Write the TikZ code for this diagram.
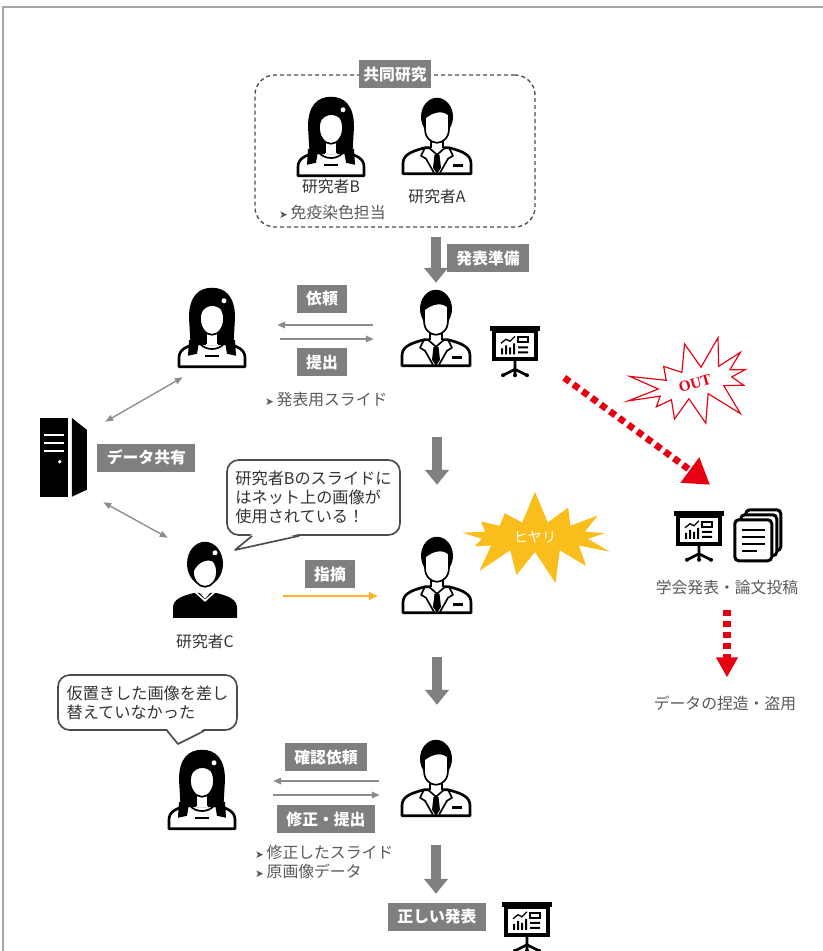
\documentclass[tikz,border=0pt]{standalone}
\usepackage{fontspec}
\setmainfont{Noto Sans CJK JP}
\newfontfamily\dejavu{DejaVu Sans}
\newfontfamily\outserif{Liberation Serif}
\usepackage{tikz}
\usetikzlibrary{arrows.meta, positioning, shapes.symbols}

\definecolor{tagfill}{HTML}{7F7F7F}
\definecolor{flowgray}{HTML}{808080}
\definecolor{linegray}{HTML}{8C8C8C}
\definecolor{textgray}{HTML}{595959}
\definecolor{framegray}{HTML}{A6A6A6}
\definecolor{alertred}{HTML}{E60012}
\definecolor{flashyellow}{HTML}{F9BE1C}
\definecolor{pointyellow}{HTML}{F7B52A}

\newcommand{\arrowbullet}{{\dejavu\fontsize{9}{10}\selectfont ➤}\,}
\newcommand{\jpsize}{\fontsize{13.5}{16}\selectfont}

\tikzset{
  person/.style={minimum width=2.1cm, minimum height=2.34cm, inner sep=0pt},
  tag/.style={fill=tagfill, text=white, font=\bfseries\jpsize, inner xsep=8pt, inner ysep=0pt, minimum height=0.84cm},
  who/.style={text=black!80, inner sep=0pt},
  note/.style={text=textgray, inner sep=0pt},
  team/.style={draw=black!70, dashed, dash pattern=on 0.12cm off 0.09cm, line width=0.04cm, rounded corners=0.6cm, minimum width=8.4cm, minimum height=4.56cm},
  flow/.style={draw=flowgray, line width=0.3cm, -{Triangle[length=0.45cm,width=0.7cm]}},
  pass/.style={draw=linegray, line width=0.05cm, -{Triangle[length=0.24cm,width=0.2cm]}},
  share/.style={draw=linegray, line width=0.04cm, {Triangle[length=0.24cm,width=0.18cm]}-{Triangle[length=0.24cm,width=0.18cm]}},
  hint/.style={draw=pointyellow, line width=0.06cm, -{Triangle[length=0.27cm,width=0.24cm]}},
  outline/.style={draw=alertred, line width=0.2cm, dash pattern=on 0.2cm off 0.14cm, -{Triangle[length=0.75cm,width=0.9cm]}},
  outdown/.style={draw=alertred, line width=0.24cm, dash pattern=on 0.18cm off 0.15cm, -{Triangle[length=0.6cm,width=0.62cm]}},
  bubble/.style={draw=black!70, fill=white, line width=0.05cm, rounded corners=0.35cm, align=left, inner xsep=7pt, text=black!80, font=\fontsize{13.8}{16}\selectfont},
  flash/.style={starburst, starburst points=13, starburst point height=1cm, random starburst=7, fill=flashyellow, text=white, font=\fontsize{12}{14}\selectfont, minimum width=5.2cm, minimum height=2.9cm, inner sep=0pt},
  boom/.style={starburst, starburst points=12, starburst point height=1.1cm, random starburst=21, draw=alertred, line width=0.035cm, fill=white, text=alertred, font=\outserif\bfseries\fontsize{13}{15}\selectfont, minimum width=4.5cm, minimum height=3.05cm},
  suitman/.pic={
    \draw[fill=white, line width=0.08cm, line join=round]
      (-34,76) -- (-34,66) .. controls (-34,58) and (-28,54) .. (-12,50)
      -- (12,50) .. controls (28,54) and (34,58) .. (34,66) -- (34,76) -- cycle;
    \fill[white] (-6,38) rectangle (6,52);
    \draw[line width=0.05cm] (-6,40) -- (-6,50) (6,40) -- (6,50);
    \fill (0,19) ellipse [x radius=16, y radius=19];
    \draw[fill=white, line width=0.05cm] (-12,20) .. controls (-5,14) and (5,11) .. (12,17)
      -- (12,31) .. controls (12,40) and (6,45) .. (0,45) .. controls (-6,45) and (-12,40) .. (-12,31) -- cycle;
    \draw[line width=0.05cm, line join=round] (-12,50) -- (-16,58) -- (-11,61) -- (-3,75)
      (12,50) -- (16,58) -- (11,61) -- (3,75)
      (-8,50) -- (0,57) -- (8,50);
    \fill (-2.5,57) -- (2.5,57) -- (4,70) -- (0,76) -- (-4,70) -- cycle;
    \fill (16,66) rectangle (26,69);
  },
  longhair/.pic={
    \fill (-21,64) -- (-23,30) .. controls (-23,8) and (-13,0) .. (0,0)
      .. controls (13,0) and (23,8) .. (23,30) -- (21,64) -- cycle;
    \draw[fill=white, line width=0.08cm, line join=round]
      (-33,79) -- (-33,70) .. controls (-33,62) and (-26,58) .. (-13,56)
      -- (13,56) .. controls (26,58) and (33,62) .. (33,70) -- (33,79) -- cycle;
    \fill (-23,52) -- (-13,54) -- (-15,66) -- (-24,68) -- cycle;
    \fill (23,52) -- (13,54) -- (15,66) -- (24,68) -- cycle;
    \fill[white] (-6,40) rectangle (6,57);
    \draw[line width=0.05cm] (-6,44) -- (-6,56) (6,44) -- (6,56);
    \draw[line width=0.05cm] (-12,56) .. controls (-6,63) and (6,63) .. (12,56);
    \draw[line width=0.05cm] (-7,68) -- (7,68);
    \draw[fill=white, line width=0.05cm] (0,31) ellipse [x radius=12, y radius=16];
    \fill (-13,31) .. controls (-10,17) and (4,13) .. (13,26) -- (13,12) -- (-13,12) -- cycle;
    \fill[white] (12,13) circle (2.5);
  },
  shorthair/.pic={
    \fill (-32,76) -- (-32,66) .. controls (-32,58) and (-24,54) .. (-10,51)
      -- (10,51) .. controls (24,54) and (32,58) .. (32,66) -- (32,76) -- cycle;
    \fill (0,22) ellipse [x radius=18, y radius=22];
    \fill[white] (-6,38) -- (6,38) -- (6,50) -- (0,57) -- (-6,50) -- cycle;
    \draw[white, line width=0.05cm] (-10,50) -- (0,59) -- (10,50);
    \draw[fill=white, line width=0.05cm] (0,30) ellipse [x radius=12, y radius=15];
    \fill (-13,33) .. controls (-8,20) and (2,15) .. (13,22) -- (13,9) -- (-13,9) -- cycle;
    \fill[white] (10,11) circle (2.5);
  },
  server/.pic={
    \fill (0,0) rectangle (28,79);
    \fill (32,0) -- (47,12) -- (47,72) -- (32,79) -- cycle;
    \draw[white, line width=0.06cm] (4,17) -- (24,17) (4,25) -- (24,25) (4,33) -- (24,33);
    \fill[white] (20,44) circle (1.8);
  },
  board/.pic={
    \fill (-25,0) rectangle (25,5);
    \draw[fill=white, line width=0.11cm] (-21,5) rectangle (21,33);
    \fill (-14,22) rectangle (-12,28) (-10,19) rectangle (-8,28) (-6,21) rectangle (-4,28) (-2,17) rectangle (0,28);
    \draw[line width=0.04cm] (-14,17) -- (-9,13) -- (-5,15) -- (0,10);
    \draw[line width=0.06cm] (3,11) rectangle (13,16);
    \fill (3,20) rectangle (13,22) (3,25) rectangle (13,27);
    \draw[line width=0.08cm] (0,33) -- (0,43) (-12,49) -- (0,43) -- (12,49) (0,43) -- (0,49);
    \fill (-12,49) circle (2) (12,49) circle (2) (0,49) circle (2);
  },
  papers/.pic={
    \draw[fill=white, line width=0.09cm, rounded corners=0.12cm] (13,0) rectangle (48,41);
    \draw[fill=white, line width=0.09cm, rounded corners=0.12cm] (8,5) rectangle (44,46);
    \draw[fill=white, line width=0.09cm, rounded corners=0.12cm] (2,10) rectangle (39,51);
    \draw[line width=0.07cm] (9,20) -- (32,20) (9,27) -- (32,27) (9,34) -- (32,34) (9,41) -- (24,41);
  }
}

\begin{document}
\begin{tikzpicture}[x=0.03cm, y=-0.03cm, font=\jpsize]
        \useasboundingbox (0,0) rectangle (823,951);
        \draw[framegray, line width=0.06cm] (3,951) -- (3,7) -- (823,7);

        \node[team] (team) at (395,151) {};
        \node[tag, inner xsep=4pt] (t0) at (team.north) {共同研究};
        \node[person] (b1) at (331,136) {};
        \node[person] (a1) at (437,137) {};
        \pic at (b1.north) {longhair};
        \pic at (a1.north) {suitman};
        \node[who, below = 0.1cm of b1] (nb1) {研究者B};
        \node[note, anchor=west] (db1) at (279,212) {\arrowbullet 免疫染色担当};
        \node[who, below = 0.37cm of a1] (na1) {研究者A};

        \node[person] (b2) at (212,327) {};
        \node[person] (a2) at (436,329) {};
        \pic at (b2.north) {longhair};
        \pic at (a2.north) {suitman};
        \node[person, minimum width=1.5cm, minimum height=1.53cm] (scr2) at (515,352) {};
        \pic at (scr2.north) {board};
        \node[tag] (t1) at (488,258) {発表準備};
        \node[tag] (t2) at (322,299) {依頼};
        \node[tag] (t3) at (322,362) {提出};
        \node[note, anchor=west] (d2) at (265,400) {\arrowbullet 発表用スライド};

        \node[person, minimum width=1.41cm, minimum height=2.37cm] (srv) at (63.5,457.5) {};
        \pic at (srv.north west) {server};
        \node[tag, right = 0.3cm of srv] (t4) {データ共有};

        \node[person] (c3) at (205,581) {};
        \node[person] (a3) at (437,576) {};
        \pic at (c3.north) {shorthair};
        \pic at (a3.north) {suitman};
        \node[who, below = 0.4cm of c3] (nc3) {研究者C};
        \node[tag] (t5) at (330,574) {指摘};
        \node[bubble, minimum width=5.19cm, minimum height=2.25cm] (s1) at (313.5,497.5) {研究者Bのスライドに\\はネット上の画像が\\使用されている！};
        \coordinate (s1tip) at (235,550);
        \fill[white] ([shift={(26,-2)}]s1.south west) -- (s1tip) -- ([shift={(73,-2)}]s1.south west) -- cycle;
        \draw[black!70, line width=0.05cm, line join=round] ([xshift=0.78cm]s1.south west) -- (s1tip) -- ([xshift=2.19cm]s1.south west);
        \node[flash] (hy) at (535,537) {ヒヤリ};

        \node[boom, rotate=15] (ng) at (695,383) {OUT};
        \node[person, minimum width=1.5cm, minimum height=1.53cm] (scr5) at (699,536.5) {};
        \pic at (scr5.north) {board};
        \node[person, minimum width=1.47cm, minimum height=1.56cm] (doc5) at (757.5,536) {};
        \pic at (doc5.north west) {papers};
        \node[note] (conf) at (727,587) {学会発表・論文投稿};
        \node[note] (fraud) at (725,703) {データの捏造・盗用};

        \node[person] (b4) at (202,789) {};
        \node[person] (a4) at (436,779) {};
        \pic at (b4.north) {longhair};
        \pic at (a4.north) {suitman};
        \node[bubble, minimum width=5.37cm, minimum height=1.65cm] (s2) at (147.5,702.5) {仮置きした画像を差し\\替えていなかった};
        \coordinate (s2tip) at (178,744);
        \fill[white] ([shift={(110,-2)}]s2.south west) -- (s2tip) -- ([shift={(147,-2)}]s2.south west) -- cycle;
        \draw[black!70, line width=0.05cm, line join=round] ([xshift=3.3cm]s2.south west) -- (s2tip) -- ([xshift=4.41cm]s2.south west);
        \node[tag] (t6) at (326,757) {確認依頼};
        \node[tag] (t7) at (326,819) {修正・提出};
        \node[note, anchor=west] (d4a) at (255,852) {\arrowbullet 修正したスライド};
        \node[note, anchor=west] (d4b) at (255,871) {\arrowbullet 原画像データ};
        \node[tag] (fin) at (437,917) {正しい発表};
        \node[person, minimum width=1.5cm, minimum height=1.53cm] (scr6) at (527,927.5) {};
        \pic at (scr6.north) {board};

        \draw[flow, shorten <=0.27cm, shorten >=0.21cm] (a2.north |- team.south) -- (a2.north);
        \draw[flow, shorten <=2.07cm, shorten >=1.56cm] (a3.north |- a2.south) -- (a3.north);
        \draw[flow, shorten <=1.26cm, shorten >=1.05cm] (a3.south) -- (a3.south |- a4.north);
        \draw[flow, shorten <=0.81cm, shorten >=0.27cm] (a4.south) -- (a4.south |- fin.north);

        \draw[pass, shorten <=0.84cm, shorten >=0.9cm] ([yshift=0.12cm]a2.west) -- ([yshift=0.12cm]a2.west -| b2.east);
        \draw[pass, shorten <=0.99cm, shorten >=0.81cm] ([yshift=-0.3cm]a2.west -| b2.east) -- ([yshift=-0.3cm]a2.west);
        \draw[pass, shorten <=0.66cm, shorten >=1.08cm] ([yshift=-0.06cm]a4.west) -- ([yshift=-0.06cm]a4.west -| b4.east);
        \draw[pass, shorten <=1.08cm, shorten >=0.63cm] ([yshift=-0.48cm]a4.west -| b4.east) -- ([yshift=-0.48cm]a4.west);

        \draw[share] ([xshift=0.54cm,yshift=-0.12cm]srv.north east) -- ([xshift=0.18cm,yshift=-0.33cm]b2.south west);
        \draw[share] ([xshift=0.48cm,yshift=-0.15cm]srv.south east) -- ([xshift=-0.06cm,yshift=0.12cm]c3.north west);
        \draw[hint, shorten <=1.29cm, shorten >=0.72cm] ([yshift=-0.45cm]c3.east) -- ([yshift=-0.45cm]c3.east -| a3.west);

        \draw[outline] ([xshift=0.72cm]scr2.south east) -- ([xshift=0.33cm,yshift=0.78cm]scr5.north);
        \draw[outdown, shorten <=0.45cm, shorten >=0.54cm] (conf.south) -- (conf.south |- fraud.north);
\end{tikzpicture}
\end{document}
